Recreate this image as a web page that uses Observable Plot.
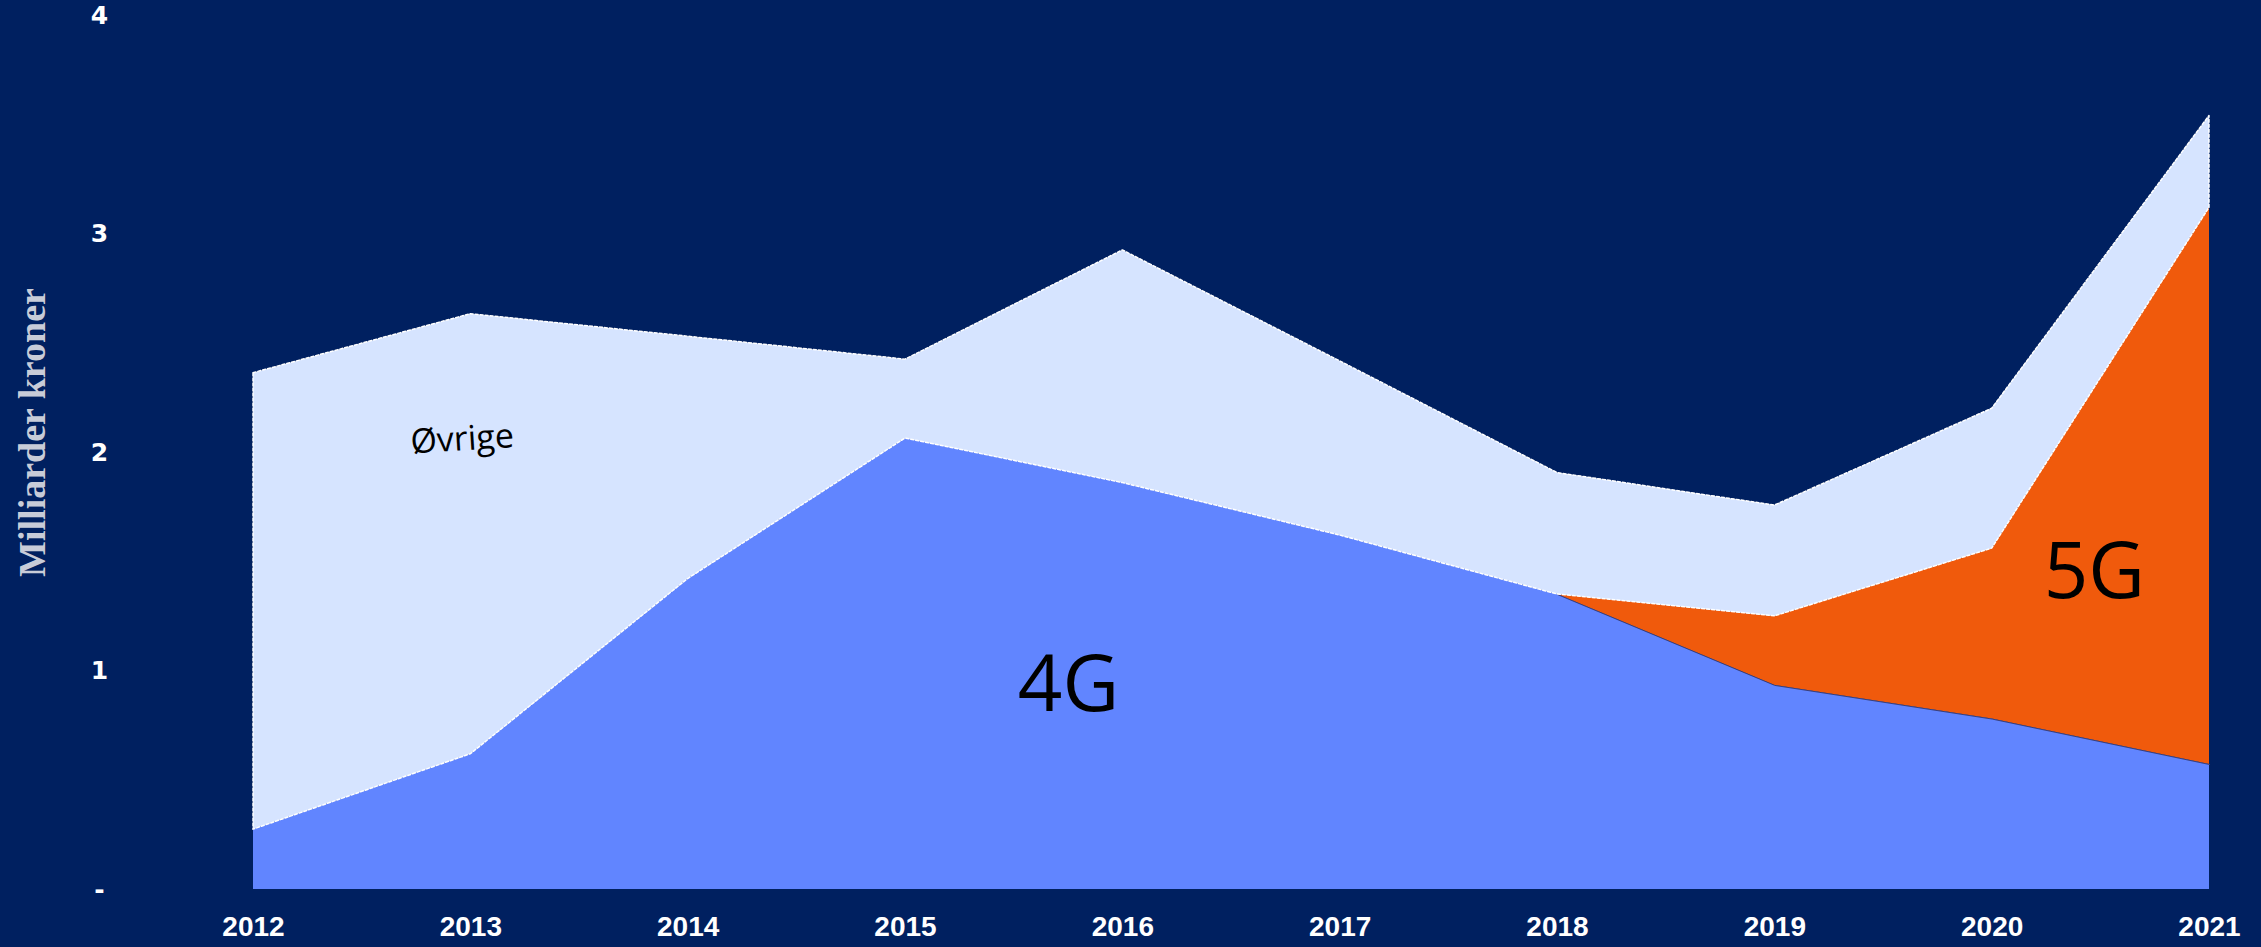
<!DOCTYPE html>
<html><head><meta charset="utf-8">
<script src="https://cdn.jsdelivr.net/npm/d3@7"></script>
<script src="https://cdn.jsdelivr.net/npm/@observablehq/plot@0.6"></script>
<style>
html,body{margin:0;padding:0;background:#002060;overflow:hidden;}
#chart svg{display:block}
</style></head><body><div id="chart"></div>
<script>
// ---- data (milliarder kroner) ----
const years  = [2012, 2013, 2014, 2015, 2016, 2017, 2018, 2019, 2020, 2021];
const series = ["4G", "5G", "Øvrige"];
const g4     = [0.274, 0.619, 1.421, 2.064, 1.86, 1.62, 1.35, 0.934, 0.78, 0.572];
const g5     = [0, 0, 0, 0, 0, 0, 0, 0.316, 0.78, 2.548];
const ovrige = [2.089, 2.014, 1.109, 0.361, 1.065, 0.797, 0.556, 0.507, 0.64, 0.42];
const yTicks = [0, 1, 2, 3, 4];
const yTickLabels = ["-", "1", "2", "3", "4"];
const yTitle = "Milliarder kroner";
const labelTexts  = ["Øvrige", "4G", "5G"];
const labelYears  = [2012.96, 2015.75, 2020.47];
const labelValues = [2.06, 0.93, 1.45];

// ---- build stacked table ----
const values = {"4G": g4, "5G": g5, "Øvrige": ovrige};
const rows = [];
years.forEach((year, i) => {
  let base = 0;
  for (const s of series) {
    const v = values[s][i];
    rows.push({year, series: s, y1: base, y2: base + v});
    base += v;
  }
});
const labels = labelTexts.map((t, i) => ({text: t, year: labelYears[i], value: labelValues[i]}));

const colors = ["#6185FF", "#F05A0C", "#D6E4FF"];

const chart = Plot.plot({
  width: 2261,
  height: 947,
  marginLeft: 253,
  marginRight: 52,
  marginTop: 15,
  marginBottom: 58,
  style: {background: "#002060", color: "white"},
  x: {domain: [2012, 2021]},
  y: {domain: [0, 4]},
  color: {domain: series, range: colors},
  marks: [
    Plot.areaY(rows, {x: "year", y1: "y1", y2: "y2", z: "series", fill: "series", fillOpacity: 1}),
    Plot.line(rows.filter(d => d.series === "4G" && d.year >= 2018), {x: "year", y: "y2", stroke: "#3a3f7a", strokeWidth: 1}),
    Plot.areaY(rows.filter(d => d.series === "Øvrige"), {x: "year", y1: "y1", y2: "y2", fill: "none", stroke: "white", strokeWidth: 1.5, strokeDasharray: "3,2"}),
    Plot.text(labels.filter(d => d.text === "Øvrige"), {x: "year", y: "value", text: "text", fill: "black", fontSize: 34, rotate: -3.5, fontFamily: "Open Sans, sans-serif"}),
    Plot.text(labels.filter(d => d.text !== "Øvrige"), {x: "year", y: "value", text: "text", fill: "black", fontSize: 78, fontFamily: "Open Sans, sans-serif"}),
    Plot.axisY({ticks: yTicks, tickFormat: d => yTickLabels[yTicks.indexOf(d)], tickSize: 0, tickPadding: 154, textAnchor: "middle", fontSize: 25, fontWeight: "bold", fontFamily: "DejaVu Sans, sans-serif", color: "white", label: null}),
    Plot.axisX({ticks: years, tickFormat: d => String(d), tickSize: 0, tickPadding: 27, fontSize: 28, fontWeight: "bold", fontFamily: "Liberation Sans Narrow, Liberation Sans, sans-serif", color: "white", label: null}),
    Plot.text([yTitle], {frameAnchor: "left", textAnchor: "middle", text: d => d, rotate: -90, dx: -221, dy: -20, fill: "#c8ccd8", fontSize: 38, fontWeight: "bold", fontFamily: "Liberation Serif, serif"})
  ]
});
document.getElementById("chart").appendChild(chart);
</script>
</body></html>
